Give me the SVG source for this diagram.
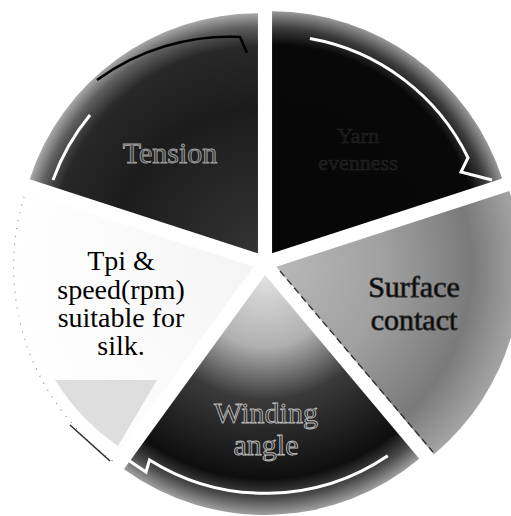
<svg xmlns="http://www.w3.org/2000/svg" width="511" height="516" viewBox="0 0 511 516">
<defs>
<radialGradient id="g1" gradientUnits="userSpaceOnUse" cx="272" cy="253" r="242">
<stop offset="0" stop-color="#060606"/><stop offset="0.86" stop-color="#080808"/><stop offset="0.93" stop-color="#3c3c3c"/><stop offset="1" stop-color="#9a9a9a"/>
</radialGradient>
<radialGradient id="g2" gradientUnits="userSpaceOnUse" cx="276" cy="267" r="245">
<stop offset="0" stop-color="#b8b8b8"/><stop offset="0.45" stop-color="#a0a0a0"/><stop offset="0.8" stop-color="#7a7a7a"/><stop offset="1" stop-color="#a4a4a4"/>
</radialGradient>
<radialGradient id="g3" gradientUnits="userSpaceOnUse" cx="265" cy="275" r="240">
<stop offset="0" stop-color="#e2e2e2"/><stop offset="0.3" stop-color="#b0b0b0"/><stop offset="0.52" stop-color="#3a3a3a"/><stop offset="0.85" stop-color="#0e0e0e"/><stop offset="0.93" stop-color="#4a4a4a"/><stop offset="1" stop-color="#a0a0a0"/>
</radialGradient>
<radialGradient id="g5" gradientUnits="userSpaceOnUse" cx="258" cy="253" r="240">
<stop offset="0" stop-color="#333333"/><stop offset="0.6" stop-color="#1c1c1c"/><stop offset="0.86" stop-color="#282828"/><stop offset="0.94" stop-color="#5e5e5e"/><stop offset="1" stop-color="#aaaaaa"/>
</radialGradient>
<radialGradient id="g4" gradientUnits="userSpaceOnUse" cx="254" cy="267" r="240">
<stop offset="0" stop-color="#f4f4f4"/><stop offset="1" stop-color="#ffffff"/>
</radialGradient>
</defs>
<style>
text{font-family:"Liberation Serif","Times New Roman","DejaVu Serif",serif;text-anchor:middle}
.lbl{font-size:30px}
.tpi{font-size:28px;fill:#000}
.yarn{font-size:22px;fill:#161616;stroke:#262626;stroke-width:0.5}
.arw{fill:none;stroke:#ffffff;stroke-width:3;stroke-linejoin:miter}
.edge{fill:none;stroke:#333;stroke-width:1.4;stroke-dasharray:7 4}
.dots{fill:none;stroke:#8a8a8a;stroke-width:1.2;stroke-dasharray:1 7}
</style>
<rect width="511" height="516" fill="#ffffff"/>

<g id="slice-top-right">
<path d="M272.05,253.29 L272.05,11.29 A242 242 0 0 1 502.2,178.5 Z" fill="url(#g1)"/>
<path class="arw" d="M309.9,38.6 A218 218 0 0 1 468,157.7 L461,172 L492,180"/>
<text class="yarn" x="358" y="143">Yarn</text>
<text class="yarn" x="358" y="170">evenness</text>
</g>

<g id="slice-surface">
<path d="M276.41,266.71 L509.4,191 A245 245 0 0 1 433.9,454.4 Z" fill="url(#g2)"/>
<path class="edge" d="M280,271 L433,452"/>
<text class="lbl" x="414" y="297" fill="#050505" stroke="#2a2a2a" stroke-width="0.9">Surface</text>
<text class="lbl" x="414" y="330" fill="#050505" stroke="#2a2a2a" stroke-width="0.9">contact</text>
</g>

<g id="slice-winding">
<path d="M265,275 L419.27,458.85 A240 240 0 0 1 123.93,469.16 Z" fill="url(#g3)"/>
<path class="arw" d="M387.8,455.7 A218 218 0 0 1 149.5,459.9 L146,472 L128,460"/>
<text class="lbl" x="266" y="423" fill="#2e2e2e" stroke="#b8b8b8" stroke-width="0.9">Winding</text>
<text class="lbl" x="266" y="455" fill="#2e2e2e" stroke="#b8b8b8" stroke-width="0.9">angle</text>
</g>

<g id="slice-tpi">
<path d="M253.59,266.71 L112.52,460.87 A240 240 0 0 1 25.33,192.55 Z" fill="url(#g4)"/>
<path d="M157,380 L118,446 A225 225 0 0 1 55,380 Z" fill="#d6d6d6" opacity="0.8"/>
<path class="dots" d="M112.52,460.87 A240 240 0 0 1 25.33,192.55"/>
<path d="M70,425 L110,461" stroke="#333" stroke-width="1.6" fill="none"/>
<text class="tpi" x="121" y="270">Tpi &amp;</text>
<text class="tpi" x="121" y="299">speed(rpm)</text>
<text class="tpi" x="121" y="327">suitable for</text>
<text class="tpi" x="121" y="355">silk.</text>
</g>

<g id="slice-tension">
<path d="M257.95,253.29 L29.69,179.13 A240 240 0 0 1 257.95,13.29 Z" fill="url(#g5)"/>
<path class="arw" d="M53,180 A217 217 0 0 1 90,115"/>
<path d="M97,80 A225 225 0 0 1 240,37 L247,53" fill="none" stroke="#000" stroke-width="2.5"/>
<text class="lbl" x="170" y="163" font-size="32" fill="#3a3a3a" stroke="#a0a0a0" stroke-width="0.9">Tension</text>
</g>
</svg>
